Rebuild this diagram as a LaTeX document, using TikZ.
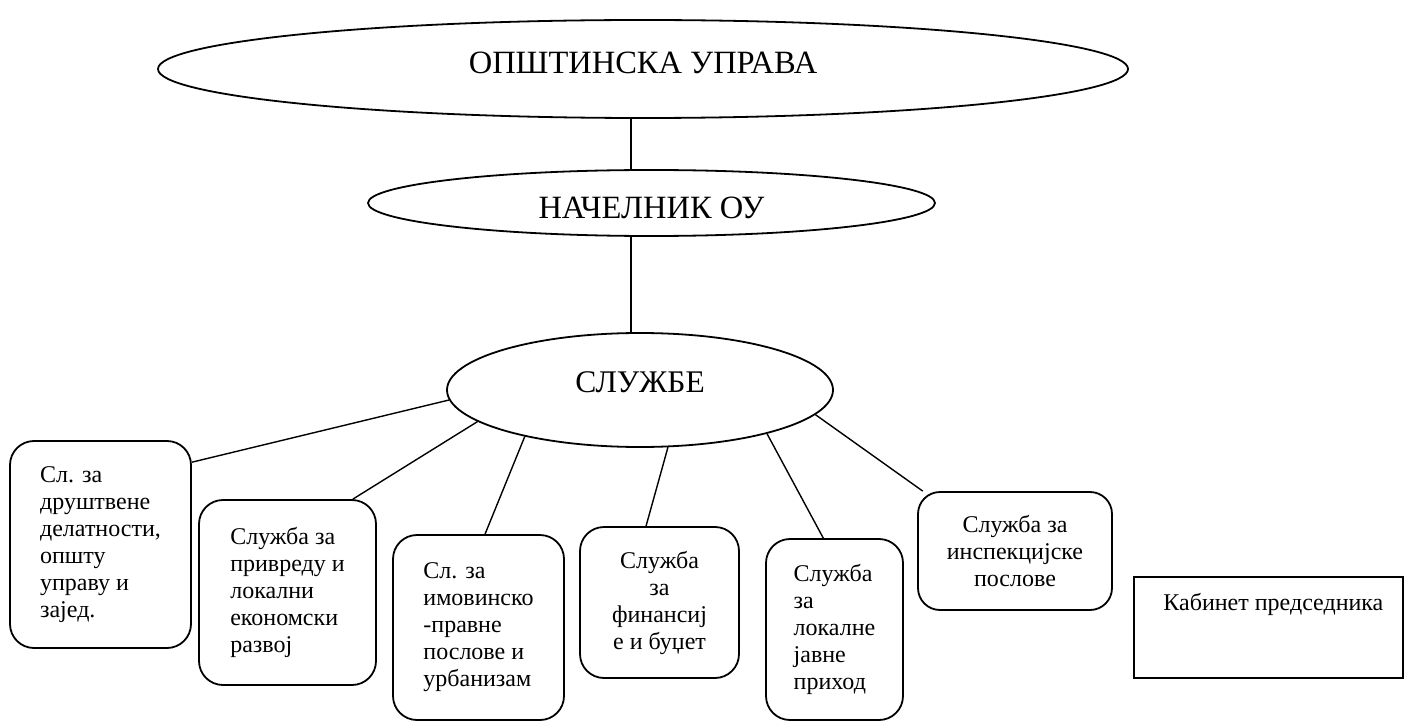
\documentclass[tikz,border=0pt]{standalone}
\usepackage{fontspec}
\setmainfont{Liberation Serif}
\usetikzlibrary{shapes.geometric}
\begin{document}
\begin{tikzpicture}[x=1pt,y=-1pt,
  oval/.style={draw, ellipse, line width=1.8pt, inner sep=0pt, font=\fontsize{32.5}{38}\selectfont},
  sbox/.style={draw, rectangle, rounded corners=24pt, line width=1.8pt, inner sep=0pt, font=\fontsize{24}{27}\selectfont},
  conn/.style={line width=1.4pt}]
\useasboundingbox (0,0) rectangle (1405,722);
\node[oval, minimum width=970pt, minimum height=98pt, text depth=12pt] (ou) at (643,69) {ОПШТИНСКА УПРАВА};
\node[oval, minimum width=567pt, minimum height=66pt, text height=31.5pt] (nach) at (651.5,203) {НАЧЕЛНИК ОУ};
\node[oval, minimum width=386pt, minimum height=114pt, text depth=16pt, font=\fontsize{31.5}{36}\selectfont] (sl) at (640,390) {СЛУЖБЕ};
\node[sbox, align=left, minimum width=181pt, minimum height=207pt] (b1) at (100.5,544.5) {Сл. за\\друштвене\\делатности,\\општу\\управу и\\зајед.};
\node[sbox, align=left, minimum width=177pt, minimum height=185pt] (b2) at (287.5,592.5) {Служба за\\привреду и\\локални\\економски\\развој};
\node[sbox, align=left, minimum width=171pt, minimum height=185pt] (b3) at (478.5,627.5) {Сл. за\\имовинско\\-правне\\послове и\\урбанизам};
\node[sbox, align=center, minimum width=159pt, minimum height=151pt] (b4) at (659.5,602.5) {Служба\\за\\финансиј\\е и буџет};
\node[sbox, align=left, minimum width=137pt, minimum height=181pt] (b5) at (834.5,629.5) {Служба\\за\\локалне\\јавне\\приход};
\node[sbox, rounded corners=22pt, align=center, minimum width=194pt, minimum height=118pt] (b6) at (1015,551) {Служба за\\инспекцијске\\послове};
\node[draw, rectangle, line width=1.8pt, minimum width=269pt, inner sep=0pt, text height=34pt, text depth=67pt, font=\fontsize{24}{27}\selectfont, anchor=north west] (kab) at (1133,576) {\hspace*{10pt}Кабинет председника};
\coordinate (vx) at (631,0);
\draw[conn] (vx |- ou.south) -- (vx |- nach.north);
\draw[conn] (vx |- nach.south) -- (vx |- sl.north);
\draw[conn] (sl.183.8) -- (b1.42.7);
\draw[conn] (sl.191.5) -- (b2.55.1);
\draw[conn] (sl.202.6) -- (b3.86.6);
\draw[conn] (sl.296.2) -- (b4.100.1);
\draw[conn] (sl.341.7) -- (b5.97.8);
\draw[conn] (sl.352.6) -- (b6.147.8);
\end{tikzpicture}
\end{document}
